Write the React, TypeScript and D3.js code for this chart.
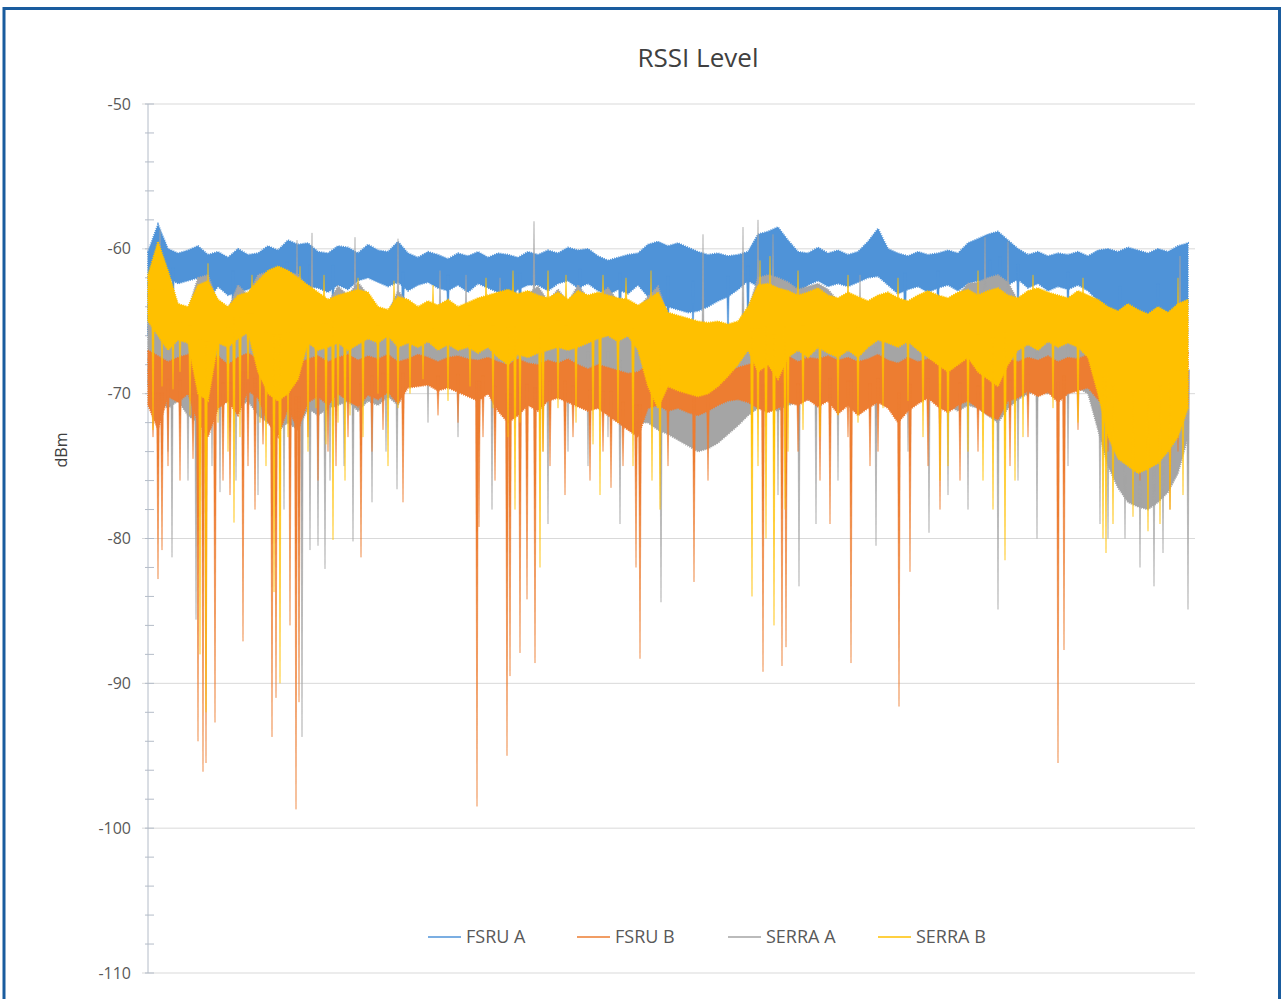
import * as d3 from "d3";

// RSSI run, decimated: min / max of each 10-sample bucket (samples 0..1040)
const samples = d3.range(0, 1041, 10);

const fsruAHi = [
  -60.2, -58.3, -60.0, -60.3, -60.1, -59.8, -60.4, -60.2, -60.6, -60.0,
  -60.4, -60.3, -59.8, -60.1, -59.4, -59.7, -59.6, -60.2, -60.3, -59.8,
  -59.9, -60.3, -59.7, -60.1, -60.2, -59.5, -60.3, -60.6, -60.2, -60.4,
  -60.7, -60.3, -60.5, -60.2, -60.6, -60.3, -60.4, -60.6, -60.2, -60.4,
  -60.1, -60.3, -59.9, -60.1, -60.0, -60.5, -60.8, -60.6, -60.4, -60.3,
  -59.7, -59.5, -59.8, -59.6, -59.9, -60.2, -60.4, -60.3, -60.5, -60.4,
  -60.2, -59.0, -58.8, -58.5, -59.4, -60.2, -60.3, -59.9, -60.3, -60.1,
  -60.4, -60.2, -59.5, -58.6, -60.0, -60.3, -60.5, -60.2, -60.4, -60.3,
  -60.1, -60.3, -59.6, -59.3, -59.0, -58.8, -59.4, -60.0, -60.4, -60.2,
  -60.5, -60.3, -60.4, -60.2, -60.5, -60.1, -60.0, -60.2, -59.9, -60.1,
  -60.3, -60.0, -60.2, -59.8, -59.6,
];
const fsruALo = [
  -66.0, -62.5, -62.0, -62.4, -62.2, -62.0, -63.5, -62.6, -63.2, -63.0,
  -62.8, -62.5, -63.6, -62.9, -62.4, -62.2, -62.6, -62.7, -63.0, -62.5,
  -62.8, -62.2, -62.0, -62.3, -62.6, -62.3, -62.9, -62.5, -62.3, -62.7,
  -62.9, -62.5, -63.0, -62.4, -62.7, -63.0, -63.2, -62.8, -62.5, -62.5,
  -62.9, -62.4, -62.2, -62.7, -62.4, -62.9, -63.2, -62.8, -63.1, -62.5,
  -63.3, -63.8, -64.0, -64.2, -64.4, -64.3, -64.0, -63.6, -63.3, -62.8,
  -62.2, -62.6, -63.0, -62.4, -62.8, -63.0, -62.5, -62.2, -62.6, -62.4,
  -62.6, -62.3, -62.0, -61.9, -62.5, -63.1, -62.8, -62.6, -63.0, -62.7,
  -62.5, -62.9, -62.4, -62.2, -62.6, -62.3, -62.5, -62.1, -62.7, -62.4,
  -62.9, -62.6, -62.8, -62.5, -62.9, -63.6, -64.6, -65.0, -65.2, -64.8,
  -65.3, -64.9, -64.5, -64.2, -63.8,
];
// [sample, dBm] single readings outside the bucket band
const fsruASpikes = [
  [12, -68.3], [25, -64.8], [60, -71.6], [85, -66.9], [119, -72], [129, -71], [139, -66.9],
  [162, -66], [185, -66.5], [255, -67.7], [300, -66], [367, -69.7], [372, -68.5], [432, -67],
  [472, -69], [520, -68], [545, -66.5], [580, -67], [600, -68], [650, -66], [757, -68],
  [790, -66], [842, -66.6], [852, -67.5], [870, -66], [920, -65.5], [972, -68], [1010, -67],
];

const fsruBHi = [
  -67.0, -67.4, -67.8, -67.5, -67.3, -68.0, -67.6, -67.4, -68.0, -67.5,
  -67.2, -67.6, -68.0, -67.8, -67.5, -67.9, -67.6, -67.4, -67.8, -67.5,
  -67.3, -67.7, -67.4, -67.6, -67.3, -67.8, -67.6, -67.3, -67.5, -67.8,
  -67.5, -67.4, -67.6, -67.7, -67.5, -67.8, -68.0, -67.6, -67.9, -68.0,
  -67.7, -67.9, -67.6, -68.0, -68.3, -68.0, -68.2, -68.4, -68.6, -68.5,
  -68.0, -68.3, -68.5, -68.8, -69.0, -69.2, -69.0, -68.7, -68.5, -68.2,
  -68.0, -67.8, -67.5, -67.6, -67.4, -67.8, -67.5, -67.6, -67.4, -67.7,
  -67.5, -67.8, -67.6, -67.3, -67.7, -67.9, -67.5, -67.8, -67.6, -67.8,
  -68.0, -67.7, -67.5, -67.9, -68.2, -67.8, -67.6, -67.8, -67.5, -67.7,
  -67.4, -67.8, -67.5, -67.6, -67.3, -67.8, -68.0, -67.8, -67.6, -67.9,
  -67.5, -67.3, -67.6, -67.4, -67.2,
];
const fsruBLo = [
  -70.8, -72.5, -70.2, -70.6, -70.0, -72.0, -73.0, -71.0, -70.5, -71.5,
  -69.8, -70.3, -72.0, -73.0, -71.0, -72.5, -70.6, -70.2, -70.8, -70.0,
  -70.5, -70.9, -70.1, -70.4, -69.9, -70.7, -69.6, -69.5, -69.4, -69.8,
  -69.6, -69.9, -70.2, -70.5, -70.0, -71.2, -72.0, -71.5, -70.8, -71.2,
  -70.5, -70.3, -70.6, -70.9, -71.2, -71.0, -71.5, -72.0, -72.5, -73.0,
  -71.0, -70.8, -71.2, -71.0, -71.3, -71.5, -71.2, -70.8, -70.5, -70.4,
  -70.6, -71.0, -71.3, -71.0, -70.6, -70.8, -70.4, -70.9, -70.5, -71.4,
  -70.8, -71.5, -71.0, -70.6, -71.0, -72.0, -71.2, -70.7, -70.3, -70.9,
  -71.3, -70.8, -70.5, -71.0, -71.5, -71.8, -70.5, -70.3, -69.8, -70.2,
  -69.9, -70.6, -70.0, -69.8, -69.6, -70.4, -71.0, -71.5, -71.2, -71.8,
  -71.3, -71.5, -72.0, -71.6, -70.8,
];
const fsruBSpikes = [
  [5, -73], [10, -82.8], [14, -80.8], [20, -75], [32, -76], [45, -74.5], [50, -94], [55, -96.1],
  [58, -95.5], [67, -92.7], [75, -76], [82, -77], [95, -87.1], [100, -75], [107, -78],
  [115, -73.5], [124, -93.7], [128, -91], [142, -86], [148, -98.7], [151, -91.3], [160, -73],
  [170, -76], [180, -74], [188, -75], [200, -73], [213, -81.3], [224, -74], [235, -72.5],
  [255, -77.5], [290, -71.5], [310, -72], [329, -98.5], [331, -79.2], [335, -73], [347, -76],
  [359, -95], [362, -89.5], [372, -87.9], [379, -84.2], [387, -88.6], [395, -74], [402, -75],
  [417, -77], [425, -73], [442, -76], [455, -74], [463, -76.5], [475, -75], [488, -82],
  [492, -88.3], [520, -75], [546, -83], [560, -76], [615, -89.2], [634, -88.8], [638, -87.5],
  [650, -74], [672, -76], [682, -79], [700, -73], [703, -88.6], [722, -75], [730, -74],
  [751, -91.6], [762, -82.3], [780, -75], [792, -78], [812, -76], [830, -74], [862, -75],
  [880, -73], [910, -95.5], [916, -87.7], [930, -72.5], [960, -74], [992, -76], [1000, -75],
  [1022, -78], [1030, -74],
];

const serraAHi = [
  -62.0, -61.0, -61.8, -64.0, -64.2, -62.0, -61.8, -63.7, -64.2, -62.5,
  -63.2, -61.8, -61.6, -61.5, -61.6, -61.8, -62.7, -63.2, -63.7, -62.6,
  -63.2, -62.3, -63.2, -64.2, -64.4, -62.9, -63.7,
  -64.2, -63.8, -64.1, -63.7, -64.2, -63.9, -63.6, -63.4, -63.2, -63.0, -63.3, -63.1,
  -62.6, -63.6, -62.8, -63.7, -62.5, -63.4, -63.2, -62.7, -63.6, -63.7, -64.1,
  -63.3, -62.6, -64.6, -64.8, -65.0, -65.2, -65.3, -65.2, -65.4, -65.2, -64.2, -62.0,
  -61.8, -62.0, -62.3, -62.8, -62.6, -62.4, -62.8, -63.6, -63.2, -63.5,
  -63.8, -63.4, -63.2, -63.6, -63.8, -63.4, -63.1, -63.4, -63.6, -63.2,
  -62.4, -62.3, -62.0, -61.8, -62.3, -63.6, -63.1, -62.9, -63.2, -63.4,
  -63.6, -63.1, -63.4,
  -63.7, -64.2, -64.5, -64.0, -64.4, -64.7, -64.2, -64.6, -64.0, -63.7,
];
const serraALo = [
  -69.5, -70.5, -71.0, -70.5, -71.5, -72.0, -72.0, -71.0, -70.5, -71.0,
  -70.5, -71.5, -72.0, -72.5, -72.0, -72.5, -71.0, -71.5, -71.0, -70.8,
  -70.5, -71.2, -70.5, -70.8, -70.2, -70.8, -69.0,
  -68.6, -68.8, -69.0, -68.6, -69.2, -69.5, -69.8, -69.5, -70.2, -70.8, -70.2, -70.0,
  -70.4, -70.0, -70.2, -70.5, -70.6, -70.8, -71.0, -71.4, -71.8, -72.0, -72.0,
  -72.0, -72.5, -72.8, -73.2, -73.6, -74.0, -73.8, -73.4, -72.8, -72.2, -71.5, -71.0,
  -71.0, -71.2, -70.8, -70.6, -70.4, -70.6, -70.2, -70.8, -70.4, -70.8,
  -70.5, -70.2, -70.6, -71.0, -70.6, -70.4, -70.0, -70.4, -70.8, -71.2,
  -70.8, -71.0, -71.5, -72.0, -71.0, -70.4, -70.0, -69.8, -70.0, -69.6,
  -69.8, -69.6, -70.0,
  -72.5, -75.0, -76.5, -77.5, -77.8, -78.0, -77.5, -76.8, -75.5, -73.0,
];
const serraASpikes = [
  [12, -58.7], [20, -74], [24, -81.3], [40, -76], [48, -85.6], [64, -75], [72, -76.8],
  [88, -76], [110, -77], [136, -78], [149, -59.4], [154, -93.7], [162, -80.8], [164, -58.9],
  [170, -80.5], [177, -82.1], [182, -76], [196, -75], [205, -80.2], [207, -59.2], [224, -77.5],
  [238, -74], [249, -76.6], [250, -59.3], [280, -72], [292, -61.5], [310, -73], [318, -61.8],
  [330, -74], [344, -78], [352, -62], [386, -58.1], [400, -79], [420, -74], [440, -75],
  [460, -73], [472, -79], [513, -84.4], [555, -59], [595, -58.5], [610, -58.0], [625, -59],
  [630, -77], [651, -83.3], [668, -79], [690, -76], [712, -61.8], [728, -80.5], [760, -74],
  [781, -79.6], [800, -77], [820, -78], [837, -59.2], [850, -84.9], [860, -59.5], [870, -76],
  [889, -80], [920, -75], [952, -79], [960, -80], [977, -80], [992, -82], [1006, -83.3],
  [1015, -81], [1032, -60.5], [1040, -84.9],
];

const serraBHi = [
  -61.8, -59.5, -61.5, -63.8, -64.0, -62.5, -62.2, -63.5, -64.0, -63.2,
  -63.0, -62.2, -61.5, -61.2, -61.5, -62.0, -62.5, -63.0, -63.5, -63.2,
  -63.0, -62.8, -63.0, -64.0, -64.2, -63.3, -63.5,
  -64.0, -63.6, -63.9, -63.5, -64.0, -63.7, -63.4, -63.2, -63.0, -62.8, -63.1, -62.9,
  -63.2, -63.4, -63.0, -63.5, -62.9, -63.2, -63.0, -63.2, -63.4, -63.5, -63.9,
  -63.5, -63.0, -64.4, -64.6, -64.8, -65.0, -65.1, -65.0, -65.2, -65.0, -64.0, -62.5,
  -62.4, -62.7, -62.9, -63.2, -63.0, -62.7, -63.2, -63.4, -63.0, -63.3,
  -63.6, -63.2, -63.0, -63.4, -63.6, -63.2, -62.9, -63.2, -63.4, -63.0,
  -62.8, -63.2, -62.9, -62.7, -63.2, -63.4, -62.9, -62.7, -63.0, -63.2,
  -63.4, -62.9, -63.2,
  -63.5, -64.0, -64.3, -63.8, -64.2, -64.5, -64.0, -64.4, -63.8, -63.5,
];
const serraBLo = [
  -65.0, -66.0, -67.0, -66.3, -66.5, -70.0, -70.5, -66.5, -66.8, -66.2,
  -65.8, -68.5, -70.0, -70.5, -70.0, -69.0, -66.5, -67.0, -66.8, -66.5,
  -67.0, -66.6, -66.2, -66.5, -66.0, -66.8, -66.5,
  -66.8, -66.4, -67.0, -66.6, -67.0, -66.8, -67.2, -66.8, -67.5, -68.0, -67.3, -67.5,
  -67.2, -67.0, -66.8, -67.0, -66.8, -66.5, -66.2, -66.0, -66.4, -66.0, -67.0,
  -69.5, -71.0, -69.5, -69.8, -70.0, -70.2, -70.0, -69.5, -68.8, -68.0, -67.0, -68.5,
  -68.0, -69.0, -67.5, -67.0, -67.5, -66.8, -67.2, -67.5, -67.0, -67.5,
  -66.8, -66.3, -66.5, -66.8, -66.4, -67.0, -67.5, -68.0, -68.5, -68.0,
  -67.5, -68.5, -69.0, -69.5, -68.0, -67.0, -66.6, -67.0, -66.4, -66.8,
  -66.5, -66.8, -67.5,
  -70.0, -73.0, -74.5, -75.0, -75.5, -75.2, -74.8, -74.0, -73.0, -71.0,
];
const serraBSpikes = [
  [5, -72.5], [14, -69.5], [16, -60.8], [25, -69.7], [32, -68.5], [42, -71.5], [52, -88],
  [58, -92], [60, -61], [70, -72], [80, -74], [86, -78.9], [92, -73], [100, -69], [104, -61.8],
  [112, -72], [118, -75], [126, -83.7], [132, -90], [140, -73], [152, -61.2], [160, -74],
  [168, -71], [176, -61.8], [178, -73.5], [185, -80.1], [190, -72], [197, -76], [202, -71.5],
  [210, -62], [215, -73], [230, -70], [240, -75], [246, -62.2], [250, -71], [262, -70],
  [275, -69], [285, -62.5], [300, -70.5], [322, -69.5], [338, -62], [345, -71], [360, -73],
  [365, -61.5], [367, -78], [372, -72], [392, -82], [395, -74], [400, -61.5], [410, -71],
  [418, -61.8], [428, -72], [445, -73.5], [452, -77], [455, -61.8], [470, -72], [478, -62],
  [485, -75], [503, -61.5], [504, -76], [512, -78], [604, -84], [610, -75], [612, -60.8],
  [618, -80], [622, -60.5], [626, -86], [637, -78], [640, -74], [650, -61.5], [655, -72.5],
  [672, -73], [690, -71.5], [700, -61.8], [710, -72], [735, -71], [750, -62], [760, -70.5],
  [775, -73], [792, -76], [800, -75], [820, -74], [830, -61.5], [835, -76], [845, -78],
  [857, -81.5], [867, -76], [875, -73], [885, -61.8], [905, -71], [930, -72], [935, -62],
  [955, -80], [958, -81], [965, -79], [985, -78.5], [1000, -79.5], [1012, -79], [1022, -78],
  [1030, -62], [1035, -77],
];

const yTicks = [-50, -60, -70, -80, -90, -100, -110];
const legendNames = ["FSRU A", "FSRU B", "SERRA A", "SERRA B"];

const FONT = "'Open Sans', 'DejaVu Sans', sans-serif";

export default function App() {
  const x = d3.scaleLinear().domain([0, 1040]).range([148, 1188]);
  const y = d3.scaleLinear().domain([-110, -50]).range([973, 104]);

  const series = [
    { name: "FSRU A", color: "#4f93d8", hi: fsruAHi, lo: fsruALo, spikes: fsruASpikes },
    { name: "FSRU B", color: "#ed7d31", hi: fsruBHi, lo: fsruBLo, spikes: fsruBSpikes },
    { name: "SERRA A", color: "#a5a5a5", hi: serraAHi, lo: serraALo, spikes: serraASpikes },
    { name: "SERRA B", color: "#ffc000", hi: serraBHi, lo: serraBLo, spikes: serraBSpikes },
  ];
  // paint order as seen in the chart: grey sits under the orange band
  const drawOrder = [0, 2, 1, 3];

  const band = (s) =>
    d3
      .area()
      .x((_, i) => x(samples[i]))
      .y0((_, i) => y(s.lo[i]))
      .y1((_, i) => y(s.hi[i]))(s.hi);

  const spike = (s, [t, v]) => {
    const i = Math.min(s.hi.length - 1, Math.round(t / 10));
    const base = (s.hi[i] + s.lo[i]) / 2;
    const w = 1.5;
    return d3.line()([
      [x(t) - w, y(base)],
      [x(t), y(v)],
      [x(t) + w, y(base)],
    ]) + "Z";
  };

  const minor = d3.range(-110, -49, 2);
  const legendX = [428, 577, 728, 878];

  return (
    <svg
      width={1283}
      height={999}
      style={{ position: "absolute", left: 0, top: 0, background: "#fff" }}
    >
      <rect x={4} y={8.5} width={1275.5} height={1010} fill="none" stroke="#1a5c9e" strokeWidth={3} />

      <text x={698} y={67} textAnchor="middle" fontFamily={FONT} fontSize={26} fill="#404040">
        RSSI Level
      </text>

      {yTicks.map((t) => (
        <g key={t}>
          <line x1={142} x2={1195} y1={y(t)} y2={y(t)} stroke="#d9d9d9" strokeWidth={1} />
          <text
            x={131}
            y={y(t)}
            dy="0.35em"
            textAnchor="end"
            fontFamily={FONT}
            fontSize={16}
            fill="#595959"
          >
            {t}
          </text>
        </g>
      ))}
      {minor.map((t) => (
        <line key={t} x1={145} x2={154} y1={y(t)} y2={y(t)} stroke="#b4bcc8" strokeWidth={1} />
      ))}
      <line x1={148} x2={148} y1={y(-50)} y2={y(-110)} stroke="#b4bcc8" strokeWidth={1} />

      <text
        transform={`translate(67,450) rotate(-90)`}
        textAnchor="middle"
        fontFamily={FONT}
        fontSize={16}
        fill="#404040"
      >
        dBm
      </text>

      {drawOrder.map((k) => {
        const s = series[k];
        return (
          <g key={s.name}>
            <path
              d={band(s)}
              fill={s.color}
              stroke={s.color}
              strokeWidth={1.8}
              strokeDasharray="1 1.2"
            />
            {s.spikes.map((p, j) => (
              <path key={j} d={spike(s, p)} fill={s.color} stroke={s.color} strokeWidth={0.5} />
            ))}
          </g>
        );
      })}

      {legendNames.map((n, i) => {
        const s = series.find((d) => d.name === n);
        return (
          <g key={n} transform={`translate(${legendX[i]},937)`}>
            <line x1={0} x2={33} y1={0} y2={0} stroke={s.color} strokeWidth={1.5} />
            <text x={38} y={0} dy="0.35em" fontFamily={FONT} fontSize={18} fill="#595959">
              {n}
            </text>
          </g>
        );
      })}
    </svg>
  );
}
